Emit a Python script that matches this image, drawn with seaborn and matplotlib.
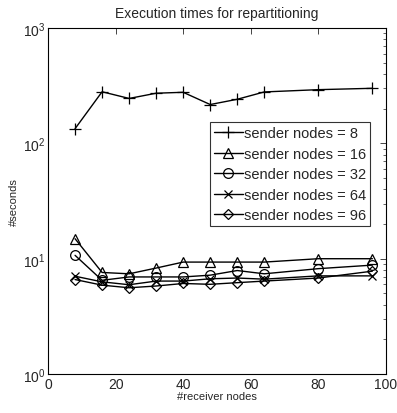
import pandas as pd
import numpy as np
import matplotlib.pyplot as plt
import seaborn as sns
from matplotlib.ticker import LogLocator, MultipleLocator

receivers = [8, 16, 24, 32, 40, 48, 56, 64, 80, 96]
senders = [8, 16, 32, 64, 96]
t_8 = [134, 280, 245, 272, 277, 217, 241, 279, 292, 300]
t_16 = [14.9, 7.6, 7.4, 8.3, 9.35, 9.35, 9.35, 9.35, 10.0, 10.0]
t_32 = [10.7, 6.5, 6.95, 6.95, 6.95, 7.2, 7.9, 7.4, 8.2, 8.8]
t_64 = [7.05, 6.3, 5.95, 6.4, 6.4, 6.7, 6.8, 6.65, 7.1, 7.1]
t_96 = [6.6, 5.9, 5.6, 5.8, 6.1, 6.0, 6.2, 6.4, 6.8, 7.8]
marker_list = ['+', '^', 'o', 'x', 'D']
marker_sizes = [8, 7, 7, 5.5, 5.5]

labels = [f'sender nodes = {s}' for s in senders]

sns.set_style('white')
plt.rcParams['font.family'] = ['Liberation Sans', 'DejaVu Sans']
fig = plt.figure(figsize=(3.97, 4.14), dpi=100)
ax = fig.add_axes([0.121, 0.094, 0.851, 0.836])

# one call per series, since seaborn won't mix filled and line-art markers
for lab, vals, mk, ms in zip(labels, [t_8, t_16, t_32, t_64, t_96], marker_list, marker_sizes):
    d = pd.DataFrame({'receivers': receivers, 'seconds': vals})
    sns.lineplot(data=d, x='receivers', y='seconds', marker=mk, color='black',
                 markerfacecolor='none', markeredgecolor='black', markeredgewidth=0.9,
                 markersize=ms, linewidth=1.0, label=lab, ax=ax)

ax.set_yscale('log')
ax.set_xlim(0, 100)
ax.set_ylim(1, 1000)
ax.xaxis.set_major_locator(MultipleLocator(20))
ax.yaxis.set_major_locator(LogLocator(base=10, numticks=10))
ax.yaxis.set_minor_locator(LogLocator(base=10, subs=np.arange(2, 10), numticks=20))
ax.tick_params(which='both', direction='in', top=True, right=True, labelsize=10, pad=2)
ax.tick_params(which='major', length=4, width=0.6)
ax.tick_params(which='minor', length=2, width=0.5)
for sp in ax.spines.values():
    sp.set_color('black')
    sp.set_linewidth(0.8)

ax.set_title('Execution times for repartitioning', fontsize=10, pad=8)
ax.set_xlabel('#receiver nodes', fontsize=8, labelpad=0)
ax.set_ylabel('#seconds', fontsize=8, labelpad=3)

leg = ax.legend(ax.lines, labels, loc='upper right', bbox_to_anchor=(0.953, 0.727),
                fontsize=10.5, frameon=True, fancybox=False, edgecolor='black',
                handlelength=2.0, handletextpad=0.1, borderpad=0.25, labelspacing=0.45,
                borderaxespad=0)
leg.get_frame().set_linewidth(0.8)

fig.savefig('out.png', dpi=100)
